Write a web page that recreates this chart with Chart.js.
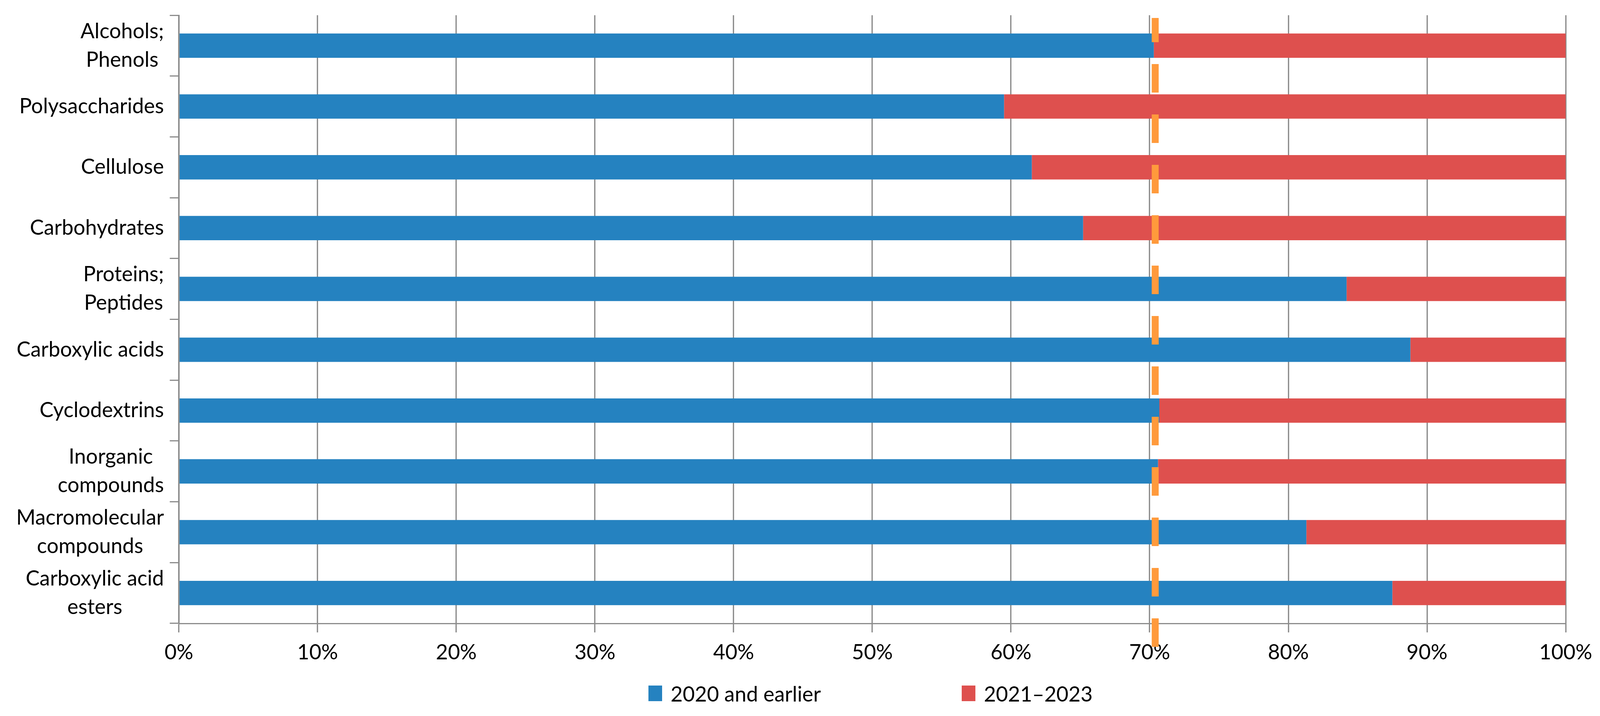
<!DOCTYPE html>
<html>
<head>
<meta charset="utf-8">
<script src="https://cdn.jsdelivr.net/npm/chart.js@4.4.1/dist/chart.umd.min.js"></script>
<style>
  html, body { margin: 0; padding: 0; background: #fff; overflow: hidden; }
  #wrap { position: relative; }
  #legend {
    position: absolute;
    display: flex; align-items: center;
    font-family: Lato, "Open Sans", sans-serif; color: #000;
  }
  .item { display: flex; align-items: center; }
</style>
</head>
<body>
<div id="wrap">
  <canvas id="chart"></canvas>
  <div id="legend"></div>
</div>
<script>
const categories = [
  ["Alcohols;", "Phenols"],
  "Polysaccharides",
  "Cellulose",
  "Carbohydrates",
  ["Proteins;", "Peptides"],
  "Carboxylic acids",
  "Cyclodextrins",
  ["Inorganic", "compounds"],
  ["Macromolecular", "compounds"],
  ["Carboxylic acid", "esters"]
];
const seriesNames = ["2020 and earlier", "2021\u20132023"];
const upTo2020 = [70.3, 59.5, 61.5, 65.2, 84.2, 88.8, 70.7, 70.6, 81.3, 87.5];
const from2021 = [29.7, 40.5, 38.5, 34.8, 15.8, 11.2, 29.3, 29.4, 18.7, 12.5];
const xTicks = [0, 10, 20, 30, 40, 50, 60, 70, 80, 90, 100];
const refLine = 70.4;

const colors = ["#2582C0", "#DE504E"];
const gridGray = "#8C8C8C";
const fontFamily = "Lato, 'Open Sans', sans-serif";

// layout measured on the 4373x1833 picture; map it onto the real window
const W = window.innerWidth;
const H = window.innerHeight;
const SX = W / 4373;
const SY = H / 1833;
const fontSize = 57 * SX;

const wrap = document.getElementById("wrap");
wrap.style.width = W + "px";
wrap.style.height = H + "px";

// category labels: block right-aligned to the axis, lines centred inside the block
const yLabelPlugin = {
  id: "yLabels",
  afterDraw(chart) {
    const ctx = chart.ctx;
    const y = chart.scales.y;
    const right = chart.chartArea.left - 41 * SX;
    ctx.save();
    ctx.font = fontSize + "px " + fontFamily;
    ctx.fillStyle = "#000";
    ctx.textAlign = "center";
    ctx.textBaseline = "middle";
    categories.forEach(function (lab, i) {
      const lines = Array.isArray(lab) ? lab : [lab];
      const w = Math.max.apply(null, lines.map(l => ctx.measureText(l).width));
      const cy = y.getPixelForValue(i);
      lines.forEach(function (l, j) {
        ctx.fillText(l, right - w / 2, cy + (j - (lines.length - 1) / 2) * 73 * SY);
      });
    });
    ctx.restore();
  }
};

// dashed orange reference line
const refLinePlugin = {
  id: "refLine",
  afterDatasetsDraw(chart) {
    const ctx = chart.ctx;
    const x = chart.scales.x.getPixelForValue(refLine);
    const area = chart.chartArea;
    ctx.save();
    ctx.strokeStyle = "#FF9A3C";
    ctx.lineWidth = 19 * SX;
    ctx.setLineDash([73 * SY, 56 * SY]);
    ctx.lineDashOffset = 11 * SY;
    ctx.beginPath();
    ctx.moveTo(x, area.top + 7 * SY);
    ctx.lineTo(x, area.bottom + 60 * SY);
    ctx.stroke();
    ctx.restore();
  }
};

new Chart(document.getElementById("chart"), {
  type: "bar",
  data: {
    labels: categories,
    datasets: [
      { label: seriesNames[0], data: upTo2020, backgroundColor: colors[0] },
      { label: seriesNames[1], data: from2021, backgroundColor: colors[1] }
    ]
  },
  options: {
    indexAxis: "y",
    responsive: true,
    maintainAspectRatio: false,
    animation: false,
    categoryPercentage: 1,
    barPercentage: 0.4,
    layout: { padding: { left: 0, top: 39 * SY, right: 76 * SX, bottom: 120 * SY } },
    scales: {
      x: {
        stacked: true,
        min: 0,
        max: 100,
        afterBuildTicks: function (scale) {
          scale.ticks = xTicks.map(v => ({ value: v }));
        },
        afterFit: function (scale) { scale.height = 117 * SY; },
        ticks: {
          callback: v => v + "%",
          color: "#000",
          padding: 20 * SY,
          maxRotation: 0,
          font: { family: fontFamily, size: fontSize }
        },
        grid: { color: gridGray, lineWidth: 3.5 * SX, tickLength: 23 * SY },
        border: { color: gridGray, width: 3 * SY }
      },
      y: {
        stacked: true,
        afterFit: function (scale) { scale.width = 489 * SX; },
        ticks: { display: false },
        grid: {
          offset: true,
          drawOnChartArea: false,
          color: gridGray,
          lineWidth: 3 * SY,
          tickLength: 25 * SX
        },
        border: { color: gridGray, width: 3 * SX }
      }
    },
    plugins: {
      legend: { display: false },
      tooltip: { enabled: false }
    }
  },
  plugins: [yLabelPlugin, refLinePlugin]
});

// legend under the plot
const legend = document.getElementById("legend");
legend.style.left = 1772 * SX + "px";
legend.style.top = 1775 * SY + "px";
legend.style.transform = "translateY(-50%)";
legend.style.fontSize = fontSize + "px";
seriesNames.forEach(function (name, i) {
  const item = document.createElement("div");
  item.className = "item";
  if (i === 0) item.style.width = 856 * SX + "px";
  const box = document.createElement("div");
  box.style.width = 38 * SX + "px";
  box.style.height = 40 * SY + "px";
  box.style.marginRight = 23 * SX + "px";
  box.style.background = colors[i];
  const txt = document.createElement("span");
  txt.textContent = name;
  item.appendChild(box);
  item.appendChild(txt);
  legend.appendChild(item);
});
</script>
</body>
</html>
